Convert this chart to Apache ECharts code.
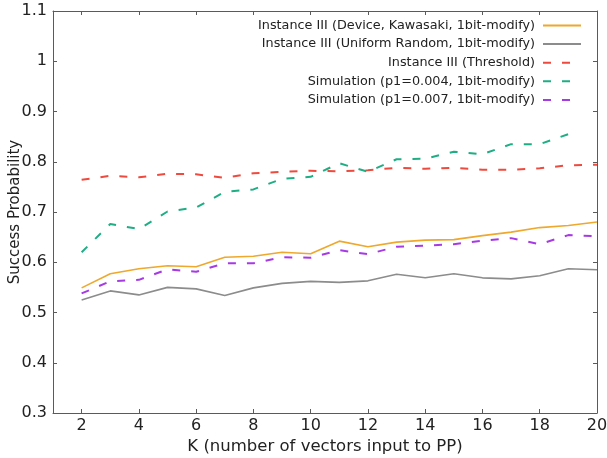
<!DOCTYPE html>
<html>
<head>
<meta charset="utf-8">
<script src="https://cdn.jsdelivr.net/npm/echarts@6/dist/echarts.min.js"></script>
<style>
  html, body { margin: 0; padding: 0; background: #fff; }
  #chart { width: 607px; height: 458px; }
</style>
</head>
<body>
<div id="chart"></div>
<script>
// K values (x axis)
const kValues = [2, 3, 4, 5, 6, 7, 8, 9, 10, 11, 12, 13, 14, 15, 16, 17, 18, 19, 20];
const xTicks = [2, 4, 6, 8, 10, 12, 14, 16, 18, 20];

// series values
const deviceKawasaki = [0.549, 0.577, 0.587, 0.593, 0.591, 0.610, 0.612, 0.620, 0.617, 0.642,
                        0.631, 0.640, 0.644, 0.645, 0.653, 0.660, 0.669, 0.673, 0.680];
const uniformRandom = [0.525, 0.543, 0.535, 0.550, 0.547, 0.534, 0.549, 0.558, 0.562, 0.560,
                       0.563, 0.576, 0.569, 0.577, 0.569, 0.567, 0.573, 0.587, 0.585];
const threshold = [0.764, 0.772, 0.769, 0.776, 0.775, 0.768, 0.777, 0.780, 0.782, 0.781,
                   0.783, 0.788, 0.786, 0.788, 0.784, 0.784, 0.787, 0.793, 0.794];
const simP004 = [0.620, 0.676, 0.666, 0.701, 0.709, 0.740, 0.745, 0.766, 0.770, 0.797,
                 0.780, 0.805, 0.806, 0.820, 0.815, 0.835, 0.835, 0.855];
const simP007 = [0.538, 0.562, 0.565, 0.586, 0.581, 0.598, 0.598, 0.610, 0.609, 0.624,
                 0.616, 0.631, 0.633, 0.636, 0.643, 0.648, 0.636, 0.654, 0.652];

const seriesNames = [
  'Instance III (Device, Kawasaki, 1bit-modify)',
  'Instance III (Uniform Random, 1bit-modify)',
  'Instance III (Threshold)',
  'Simulation (p1=0.004, 1bit-modify)',
  'Simulation (p1=0.007, 1bit-modify)'
];
const seriesValues = [deviceKawasaki, uniformRandom, threshold, simP004, simP007];
const seriesColors = ['#eea82c', '#8c8c8c', '#ef4a3e', '#1fae84', '#a63be4'];
const seriesDashed = [false, false, true, true, true];

const chart = echarts.init(document.getElementById('chart'));
const font = 'DejaVu Sans';
const axisColor = '#5a5a5a';

function pairs(vals) {
  return vals.map((v, i) => [kValues[i], v]);
}

const series = seriesNames.map((name, i) => ({
  name: name,
  type: 'line',
  symbol: 'none',
  data: pairs(seriesValues[i]),
  color: seriesColors[i],
  lineStyle: {
    color: seriesColors[i],
    width: seriesDashed[i] ? 2 : 1.6,
    type: seriesDashed[i] ? [8, 11] : 'solid'
  },
  silent: true,
  animation: false
}));

const option = {
  animation: false,
  textStyle: { fontFamily: font },
  grid: { left: 53, right: 10, top: 11, bottom: 45, containLabel: false, outerBoundsMode: 'none' },
  legend: {
    orient: 'vertical',
    right: 20,
    top: 14,
    align: 'right',
    itemWidth: 38,
    itemHeight: 12,
    itemGap: 5.6,
    itemStyle: { opacity: 0 },
    textStyle: { fontFamily: font, fontSize: 12.8, color: '#222', padding: [0, 3, 0, 0] },
    data: seriesNames
  },
  xAxis: [{
    type: 'value',
    min: 1,
    max: 20,
    name: 'K (number of vectors input to PP)',
    nameLocation: 'middle',
    nameGap: 25,
    nameMoveOverlap: false,
    nameTextStyle: { fontFamily: font, fontSize: 16.5, color: '#222' },
    axisLine: { lineStyle: { color: axisColor, width: 1 } },
    axisTick: { inside: true, length: 4, customValues: xTicks, lineStyle: { color: axisColor } },
    axisLabel: { customValues: xTicks, fontFamily: font, fontSize: 16, color: '#222', margin: 5 },
    splitLine: { show: false }
  }, {
    type: 'value',
    position: 'top',
    min: 1,
    max: 20,
    axisLine: { show: true, onZero: false, lineStyle: { color: axisColor, width: 1 } },
    axisTick: { inside: true, length: 4, customValues: xTicks, lineStyle: { color: axisColor } },
    axisLabel: { show: false },
    splitLine: { show: false }
  }],
  yAxis: [{
    type: 'value',
    min: 0.3,
    max: 1.1,
    interval: 0.1,
    name: 'Success Probability',
    nameLocation: 'middle',
    nameGap: 30,
    nameMoveOverlap: false,
    nameTextStyle: { fontFamily: font, fontSize: 15, color: '#222' },
    axisLine: { show: true, lineStyle: { color: axisColor, width: 1 } },
    axisTick: { show: true, inside: true, length: 4, lineStyle: { color: axisColor } },
    axisLabel: { fontFamily: font, fontSize: 16, color: '#222', margin: 6,
      formatter: v => String(Math.round(v * 10) / 10) },
    splitLine: { show: false }
  }, {
    type: 'value',
    position: 'right',
    min: 0.3,
    max: 1.1,
    interval: 0.1,
    axisLine: { show: true, onZero: false, lineStyle: { color: axisColor, width: 1 } },
    axisTick: { show: true, inside: true, length: 4, lineStyle: { color: axisColor } },
    axisLabel: { show: false },
    splitLine: { show: false }
  }],
  series: series
};

chart.setOption(option);
</script>
</body>
</html>
